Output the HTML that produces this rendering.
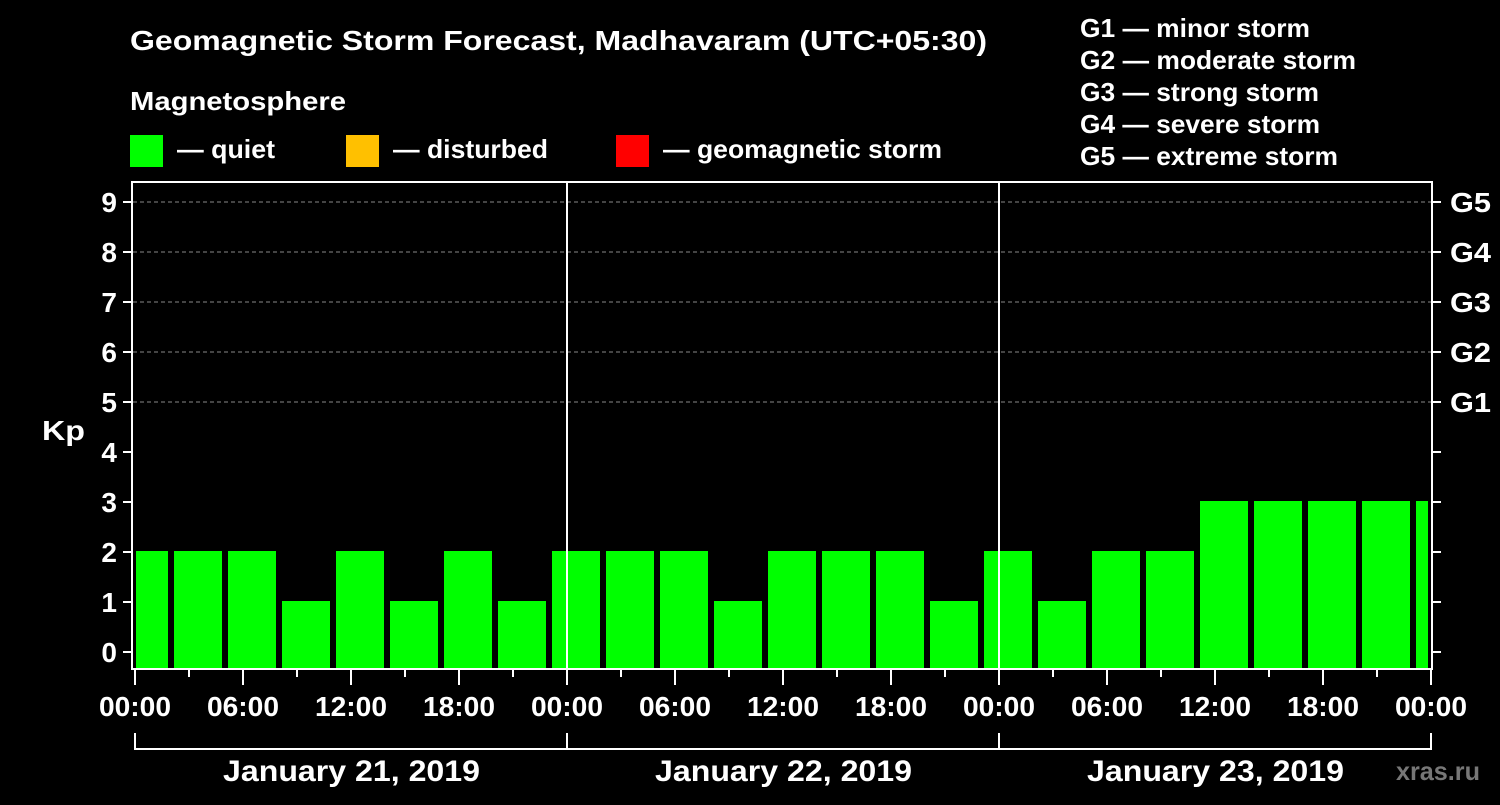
<!DOCTYPE html>
<html><head><meta charset="utf-8"><style>
body{margin:0;background:#000;width:1500px;height:800px;overflow:hidden}
text{font-family:"Liberation Sans",Arial,sans-serif;font-weight:bold;fill:#fff}
</style></head><body>
<svg id="c" width="1500" height="800" xmlns="http://www.w3.org/2000/svg">
<rect width="1500" height="800" fill="#000"/>
<text x="130" y="50" font-size="28" textLength="857" lengthAdjust="spacingAndGlyphs">Geomagnetic Storm Forecast, Madhavaram (UTC+05:30)</text>
<text x="130" y="110" font-size="26" textLength="216" lengthAdjust="spacingAndGlyphs">Magnetosphere</text>
<g><rect x="130" y="135" width="33" height="32" fill="#00ff00"/><text x="177" y="158" font-size="26" textLength="98" lengthAdjust="spacingAndGlyphs">— quiet</text></g>
<g><rect x="346" y="135" width="33" height="32" fill="#ffc000"/><text x="393" y="158" font-size="26" textLength="155" lengthAdjust="spacingAndGlyphs">— disturbed</text></g>
<g><rect x="616" y="135" width="33" height="32" fill="#ff0000"/><text x="663" y="158" font-size="26" textLength="279" lengthAdjust="spacingAndGlyphs">— geomagnetic storm</text></g>
<g font-size="26">
<text x="1080" y="37" textLength="230" lengthAdjust="spacingAndGlyphs">G1 — minor storm</text>
<text x="1080" y="69" textLength="276" lengthAdjust="spacingAndGlyphs">G2 — moderate storm</text>
<text x="1080" y="101" textLength="239" lengthAdjust="spacingAndGlyphs">G3 — strong storm</text>
<text x="1080" y="133" textLength="240" lengthAdjust="spacingAndGlyphs">G4 — severe storm</text>
<text x="1080" y="165" textLength="258" lengthAdjust="spacingAndGlyphs">G5 — extreme storm</text>
</g>
<text x="42" y="440" font-size="28" textLength="43" lengthAdjust="spacingAndGlyphs">Kp</text>
<text x="1396" y="780" font-size="26" textLength="84" lengthAdjust="spacingAndGlyphs" style="fill:#777">xras.ru</text>
<g id="grid"></g><g id="bars"></g><g id="axes"></g>
</svg>
<script>
const kpValues=[2,2,2,1,2,1,2,1,2,2,2,1,2,2,2,1,2,1,2,2,3,3,3,3,3];
const yTicks=[0,1,2,3,4,5,6,7,8,9];
const gLabels=["G1","G2","G3","G4","G5"];
const xLabels=["00:00","06:00","12:00","18:00","00:00","06:00","12:00","18:00","00:00","06:00","12:00","18:00","00:00"];
const days=["January 21, 2019","January 22, 2019","January 23, 2019"];
const NS="http://www.w3.org/2000/svg";
const X0=135,HOUR=18,Y0=652,UNIT=50,L=133,R=1431,T=183,B=668;
const xs=h=>X0+h*HOUR, ys=v=>Y0-v*UNIT;
function mk(t,a,p){const e=document.createElementNS(NS,t);for(const k in a)e.setAttribute(k,a[k]);p.appendChild(e);return e;}
const grid=document.getElementById('grid'),bars=document.getElementById('bars'),ax=document.getElementById('axes');
for(let v=5;v<=9;v++){const l=mk('line',{x1:L,x2:R,y1:ys(v),y2:ys(v),stroke:'#888','stroke-dasharray':'4,3','stroke-width':1},grid);

}
kpValues.forEach((v,k)=>{let x1=xs(k*3)-15,x2=x1+48;x1=Math.max(x1,136);x2=Math.min(x2,1428);
const r=mk('rect',{x:x1,y:ys(v)-1,width:x2-x1,height:B-ys(v)+1,fill:v>=5?'#ff0000':v>=4?'#ffc000':'#00ff00'},bars);

});
for(let d=1;d<3;d++){const l=mk('line',{x1:xs(d*24),x2:xs(d*24),y1:T,y2:B,stroke:'#fff','stroke-width':2},ax);

}
const fr=mk('rect',{x:L-1,y:T-1,width:R-L+2,height:B-T+2,fill:'none',stroke:'#fff','stroke-width':2},ax);


yTicks.forEach(v=>{mk('line',{x1:L-10,x2:L,y1:ys(v),y2:ys(v),stroke:'#fff','stroke-width':2},ax);
mk('line',{x1:R,x2:R+10,y1:ys(v),y2:ys(v),stroke:'#fff','stroke-width':2},ax);
const t=mk('text',{x:L-16,y:ys(v)+10,'text-anchor':'end','font-size':28},ax);t.textContent=v;

});
gLabels.forEach((g,i)=>{const t=mk('text',{x:1450,y:ys(5+i)+10,'font-size':28,textLength:41,lengthAdjust:'spacingAndGlyphs'},ax);t.textContent=g;

});
for(let h=0;h<=72;h+=3){mk('line',{x1:xs(h),x2:xs(h),y1:B+1,y2:h%6?B+9:B+17,stroke:'#fff','stroke-width':2},ax);}
xLabels.forEach((s,i)=>{const t=mk('text',{x:xs(i*6)-36,y:716,'font-size':28,textLength:72,lengthAdjust:'spacingAndGlyphs'},ax);t.textContent=s;

});
mk('line',{x1:xs(0),x2:xs(72),y1:749,y2:749,stroke:'#fff','stroke-width':2},ax);
for(let d=0;d<=3;d++)mk('line',{x1:xs(d*24),x2:xs(d*24),y1:733,y2:750,stroke:'#fff','stroke-width':2},ax);
days.forEach((s,i)=>{const t=mk('text',{x:xs(i*24+12)-128,y:781,'font-size':30,textLength:257,lengthAdjust:'spacingAndGlyphs'},ax);t.textContent=s;

});
</script>
</body></html>
